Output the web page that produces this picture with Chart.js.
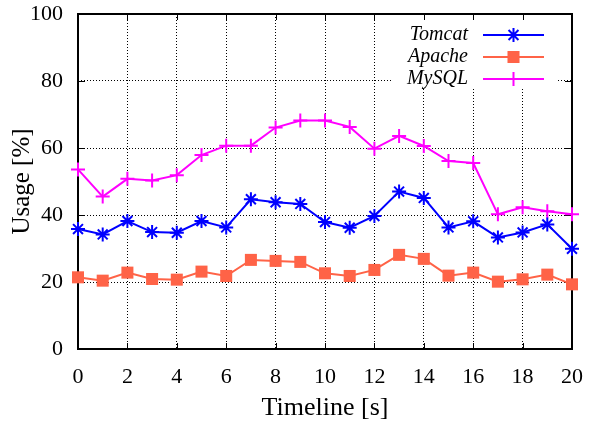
<!DOCTYPE html>
<html>
<head>
<meta charset="utf-8">
<script src="https://cdn.jsdelivr.net/npm/chart.js@4.4.0/dist/chart.umd.min.js"></script>
<style>
  html, body { margin: 0; padding: 0; background: #fff; }
  #wrap { width: 589px; height: 427px; }
</style>
</head>
<body>
<div id="wrap"><canvas id="canvas1" width="589" height="427"></canvas></div>
<script>
var seconds = [0, 1, 2, 3, 4, 5, 6, 7, 8, 9, 10, 11, 12, 13, 14, 15, 16, 17, 18, 19, 20];
var tomcat = [35.8, 34.2, 38.2, 34.9, 34.7, 38.2, 36.3, 44.7, 43.8, 43.3, 37.9,
              36.2, 39.7, 47.0, 45.1, 36.3, 38.1, 33.3, 34.8, 37.2, 29.9];
var apache = [21.4, 20.4, 22.8, 20.9, 20.7, 23.1, 21.8, 26.6, 26.3, 26.0, 22.6,
              21.8, 23.6, 28.1, 26.9, 21.9, 22.8, 20.1, 20.8, 22.2, 19.3];
var mysql = [53.6, 45.5, 50.8, 50.3, 51.9, 57.9, 60.7, 60.7, 66.1, 68.2, 68.2,
             66.3, 59.8, 63.6, 60.6, 56.1, 55.5, 40.2, 42.3, 41.1, 40.2];
var seriesNames = ["Tomcat", "Apache", "MySQL"];

function points(vals) {
    return seconds.map(function(s, i){ return {x: s, y: vals[i]}; });
}

// gnuplot-like frame, inward ticks and legend
var gnuFrame = {
    id: 'gnuFrame',
    beforeDatasetsDraw: function(chart) {
        var ctx = chart.ctx, a = chart.chartArea;
        var xs = chart.scales.x, ys = chart.scales.y;
        ctx.save();
        // legend background hides the grid behind it
        ctx.fillStyle = '#fff';
        ctx.fillRect(393, a.top, 164, 74);
        ctx.strokeStyle = '#000';
        ctx.lineWidth = 1;
        ctx.beginPath();
        xs.ticks.forEach(function(t){
            var px = Math.round(xs.getPixelForValue(t.value)) + 0.5;
            ctx.moveTo(px, a.bottom); ctx.lineTo(px, a.bottom - 6);
            ctx.moveTo(px, a.top); ctx.lineTo(px, a.top + 6);
        });
        ys.ticks.forEach(function(t){
            var py = Math.round(ys.getPixelForValue(t.value)) + 0.5;
            ctx.moveTo(a.left, py); ctx.lineTo(a.left + 7, py);
            ctx.moveTo(a.right, py); ctx.lineTo(a.right - 7, py);
        });
        ctx.stroke();
        ctx.lineWidth = 2;
        ctx.strokeRect(a.left, a.top, a.right - a.left, a.bottom - a.top);
        ctx.restore();
    },
    afterDatasetsDraw: function(chart) {
        var ctx = chart.ctx;
        ctx.save();
        ctx.font = 'italic 20px "Liberation Serif"';
        ctx.textAlign = 'right';
        ctx.textBaseline = 'middle';
        chart.data.datasets.forEach(function(ds, i){
            var y = 35 + i * 22;
            ctx.fillStyle = '#000';
            ctx.fillText(ds.label, 468, y);
            ctx.strokeStyle = ds.borderColor;
            ctx.lineWidth = 2;
            ctx.beginPath();
            ctx.moveTo(483, y); ctx.lineTo(544, y);
            ctx.stroke();
            ctx.fillStyle = ds.backgroundColor;
            Chart.helpers.drawPoint(ctx, {
                pointStyle: ds.pointStyle, radius: ds.pointRadius, rotation: 0,
                borderWidth: ds.pointBorderWidth
            }, 513.5, y);
        });
        ctx.restore();
    }
};

var font = '"Liberation Serif", "Times New Roman", serif';

new Chart(document.getElementById('canvas1'), {
    type: 'line',
    data: {
        datasets: [{
            label: seriesNames[0],
            data: points(tomcat),
            borderColor: '#0000ff',
            backgroundColor: '#0000ff',
            borderWidth: 2,
            pointStyle: 'star',
            pointRadius: 7,
            pointBorderWidth: 2
        }, {
            label: seriesNames[1],
            data: points(apache),
            borderColor: '#ff6347',
            backgroundColor: '#ff6347',
            borderWidth: 2,
            pointStyle: 'rect',
            pointRadius: 8.5,
            pointBorderWidth: 0
        }, {
            label: seriesNames[2],
            data: points(mysql),
            borderColor: '#ff00ff',
            backgroundColor: '#ff00ff',
            borderWidth: 2,
            pointStyle: 'cross',
            pointRadius: 7,
            pointBorderWidth: 2
        }]
    },
    options: {
        responsive: false,
        animation: false,
        clip: false,
        layout: { padding: { left: 0, right: 17, top: 14, bottom: 0 } },
        plugins: { legend: { display: false }, tooltip: { enabled: false } },
        elements: { line: { tension: 0 } },
        scales: {
            x: {
                type: 'linear',
                min: 0, max: 20,
                afterFit: function(s){ s.height = 78; s.paddingLeft = 0; s.paddingRight = 0; },
                ticks: { stepSize: 2, color: '#000', padding: 15, font: { family: font, size: 22 } },
                grid: { color: '#000', lineWidth: 1, drawTicks: false },
                border: { display: false, dash: [1, 2] },
                title: { display: true, text: 'Timeline [s]', color: '#000', padding: { top: 0, bottom: 3 },
                         font: { family: font, size: 26 } }
            },
            y: {
                min: 0, max: 100,
                afterFit: function(s){ s.width = 78; s.paddingTop = 0; s.paddingBottom = 0; },
                ticks: { stepSize: 20, color: '#000', padding: 15, font: { family: font, size: 22 } },
                grid: { color: '#000', lineWidth: 1, drawTicks: false },
                border: { display: false, dash: [1, 2] },
                title: { display: true, text: 'Usage [%]', color: '#000', padding: { top: 7, bottom: 0 },
                         font: { family: font, size: 25 } }
            }
        }
    },
    plugins: [gnuFrame]
});
</script>
</body>
</html>
